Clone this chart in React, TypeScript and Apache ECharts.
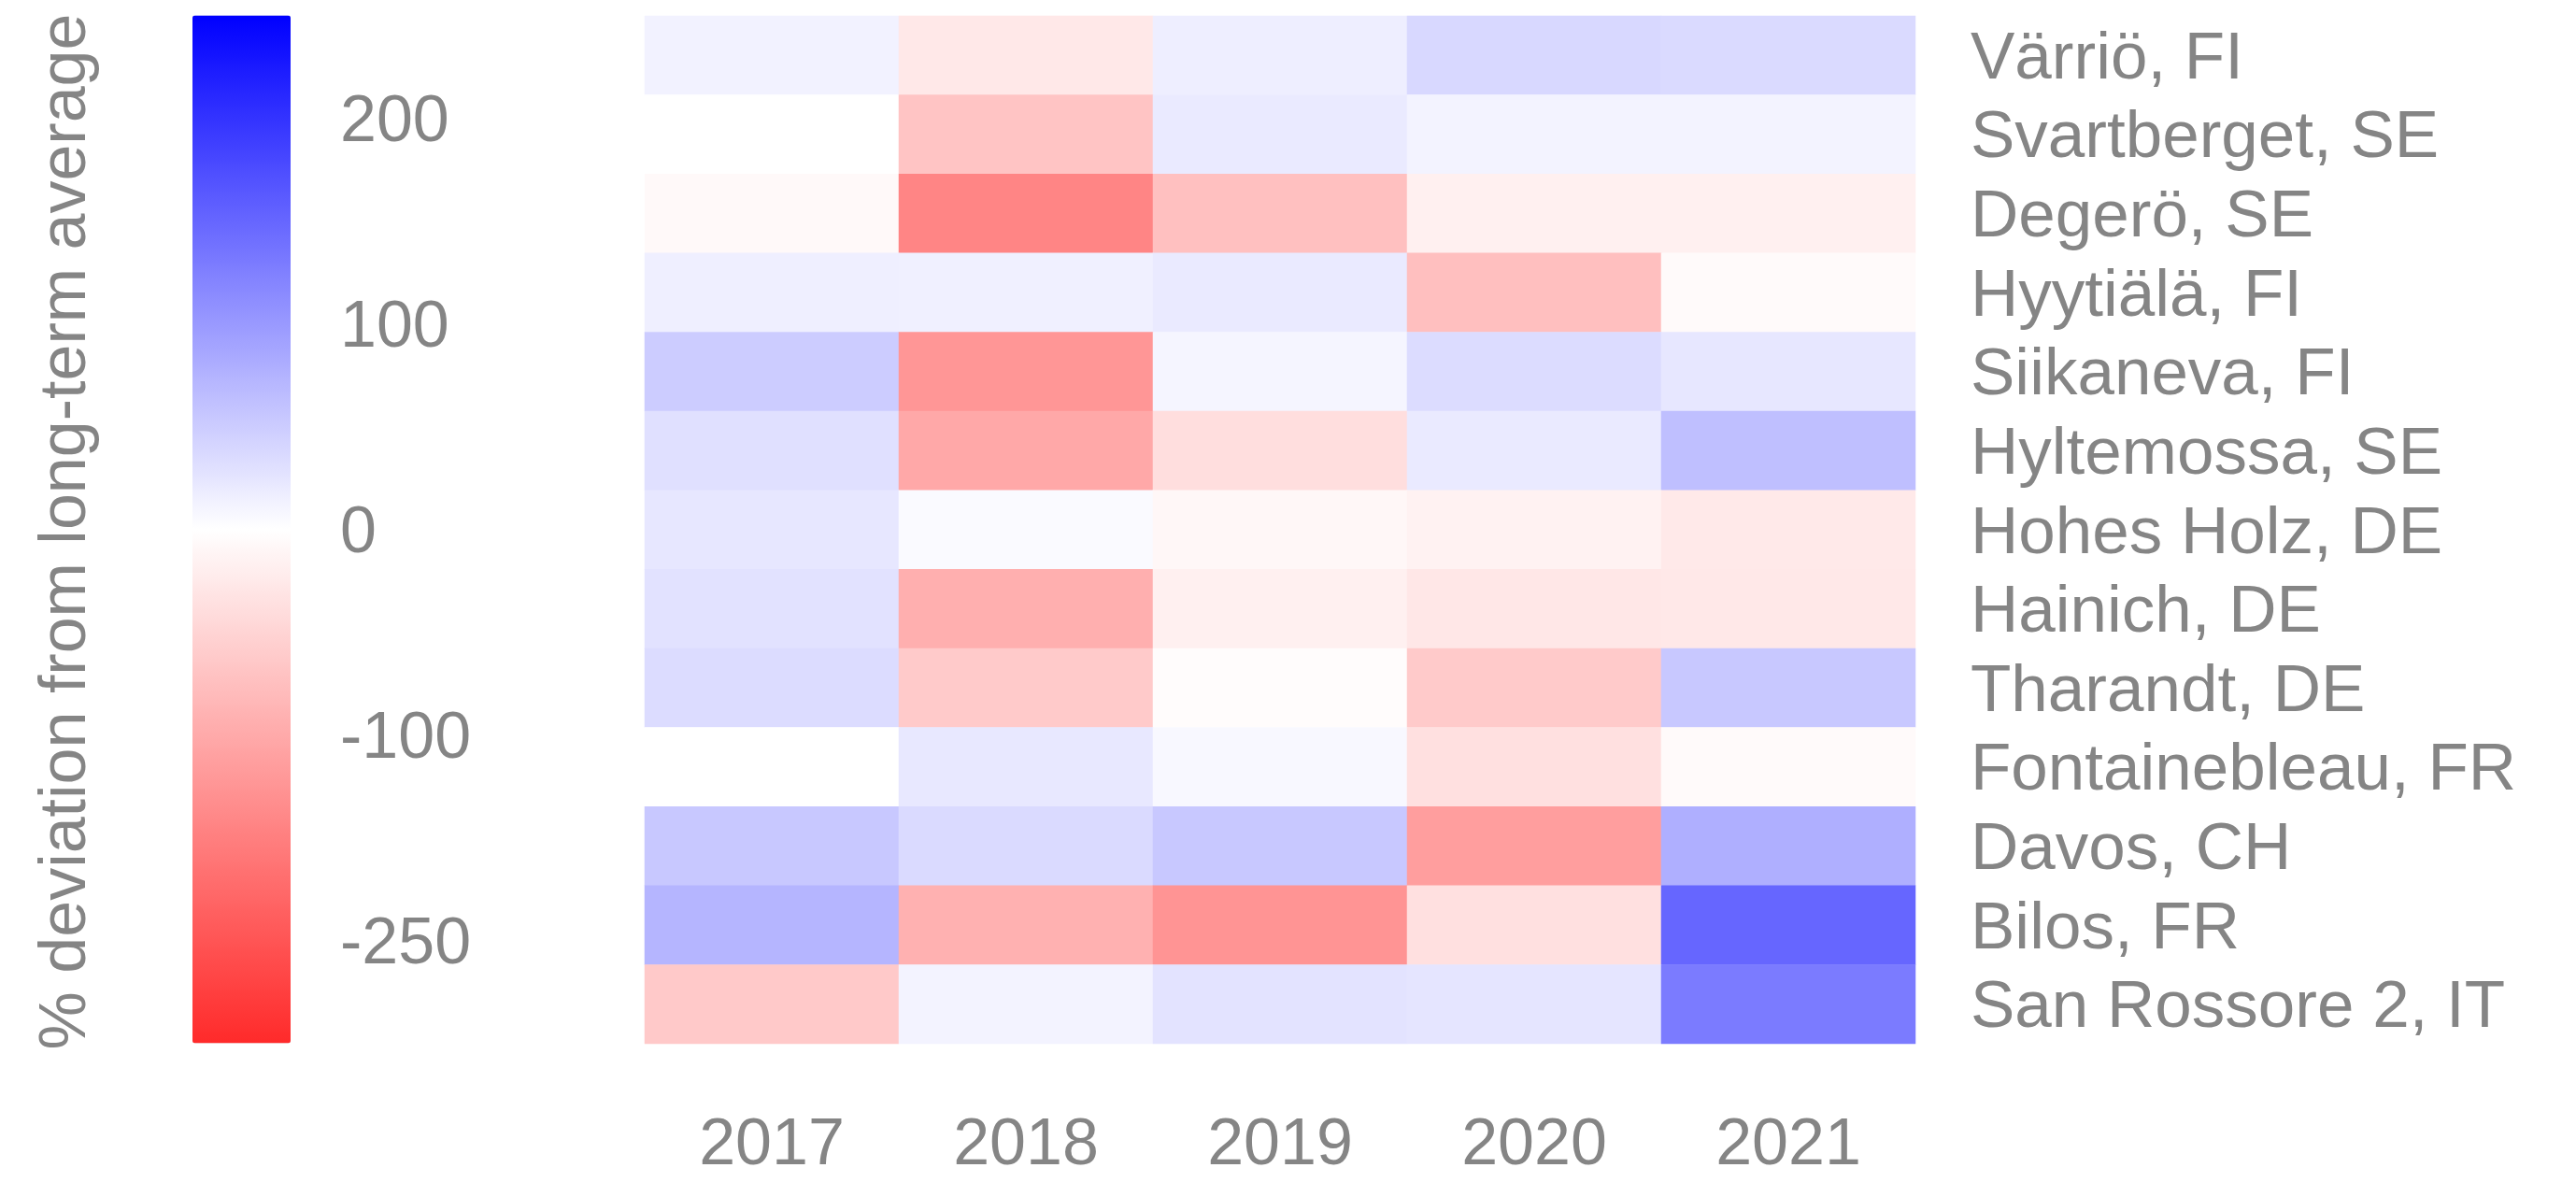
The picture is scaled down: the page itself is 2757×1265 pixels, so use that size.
import React, { useEffect, useRef } from "react";
import * as echarts from "echarts";

const years = ["2017", "2018", "2019", "2020", "2021"];
const stations = [
  "Värriö, FI",
  "Svartberget, SE",
  "Degerö, SE",
  "Hyytiälä, FI",
  "Siikaneva, FI",
  "Hyltemossa, SE",
  "Hohes Holz, DE",
  "Hainich, DE",
  "Tharandt, DE",
  "Fontainebleau, FR",
  "Davos, CH",
  "Bilos, FR",
  "San Rossore 2, IT",
];

// % deviation from long-term average, per station (rows) and year (columns)
const varrio = [13, -27, 17, 38, 36];
const svartberget = [0, -69, 21, 12, 12];
const degero = [-7, -143, -74, -18, -18];
const hyytiala = [16, 15, 21, -75, -6];
const siikaneva = [50, -123, 10, 34, 24];
const hyltemossa = [30, -102, -39, 21, 63];
const hohesHolz = [24, 5, -9, -15, -26];
const hainich = [28, -94, -18, -28, -27];
const tharandt = [34, -62, -4, -62, 54];
const fontainebleau = [0, 23, 7, -36, -6];
const davos = [54, 36, 54, -114, 78];
const bilos = [73, -92, -126, -36, 150];
const sanRossore = [-63, 12, 27, 25, 129];

const rows = [
  varrio,
  svartberget,
  degero,
  hyytiala,
  siikaneva,
  hyltemossa,
  hohesHolz,
  hainich,
  tharandt,
  fontainebleau,
  davos,
  bilos,
  sanRossore,
];

const scaleMin = -250;
const scaleMax = 250;
const tickValues = [-200, -150, -100, -50, 50, 100, 150, 200];
const labelValues = [200, 100, 0, -100, -200];
const labelTexts = ["200", "100", "0", "-100", "-250"];
const axisTitle = "% deviation from long-term average";

const FONT = "'Liberation Sans', Arial, sans-serif";
const GRAY = "#858585";

export default function App() {
  const ref = useRef<HTMLDivElement>(null);

  useEffect(() => {
    if (!ref.current) return;
    const chart = echarts.init(ref.current, null, { renderer: "svg" });

    const data: [number, number, number][] = [];
    rows.forEach((r, yi) => r.forEach((v, xi) => data.push([xi, yi, v])));

    chart.setOption({
      animation: false,
      backgroundColor: "#ffffff",
      textStyle: { fontFamily: FONT },
      grid: [
        { left: 690, top: 17, width: 1360, height: 1100 },
        { left: 206, top: 16.5, width: 105, height: 1100 },
      ],
      xAxis: [
        {
          type: "category",
          gridIndex: 0,
          data: years,
          position: "bottom",
          axisLine: { show: false },
          axisTick: { show: false },
          splitLine: { show: false },
          axisLabel: {
            color: GRAY,
            fontSize: 70,
            fontFamily: FONT,
            margin: 70,
            interval: 0,
          },
        },
        { type: "value", gridIndex: 1, show: false },
      ],
      yAxis: [
        {
          type: "category",
          gridIndex: 0,
          data: stations,
          inverse: true,
          position: "right",
          axisLine: { show: false },
          axisTick: { show: false },
          splitLine: { show: false },
          axisLabel: {
            color: GRAY,
            fontSize: 71,
            fontFamily: FONT,
            margin: 59,
            align: "left",
            interval: 0,
          },
        },
        {
          type: "value",
          gridIndex: 1,
          min: scaleMin,
          max: scaleMax,
          interval: 50,
          position: "right",
          z: 10,
          axisLine: { show: false },
          splitLine: { show: false },
          axisTick: {
            show: true,
            inside: true,
            length: 28,
            lineStyle: { color: "#ffffff", width: 1.5 },
            customValues: tickValues,
          },
          axisLabel: {
            color: GRAY,
            fontSize: 70,
            fontFamily: FONT,
            margin: 53,
            align: "left",
            customValues: labelValues,
            formatter: (v: number) => {
              const i = labelValues.indexOf(v);
              return i >= 0 ? labelTexts[i] : "";
            },
          },
        },
      ],
      visualMap: {
        type: "continuous",
        seriesIndex: 0,
        min: scaleMin,
        max: scaleMax,
        calculable: false,
        hoverLink: false,
        orient: "vertical",
        left: 206,
        top: 16.5,
        itemWidth: 105,
        itemHeight: 1100,
        padding: 0,
        inRange: { color: ["#FF2A2A", "#FFFFFF", "#0000FF"] },
      },
      graphic: [
        {
          type: "text",
          x: 67,
          y: 569,
          rotation: Math.PI / 2,
          style: {
            text: axisTitle,
            fontSize: 70,
            fontFamily: FONT,
            fill: GRAY,
            align: "center",
            verticalAlign: "middle",
          },
        },
      ],
      series: [
        {
          type: "heatmap",
          xAxisIndex: 0,
          yAxisIndex: 0,
          data,
          itemStyle: { borderWidth: 0 },
          emphasis: { disabled: true },
        },
      ],
    });

    return () => chart.dispose();
  }, []);

  return (
    <div
      ref={ref}
      style={{ position: "fixed", left: 0, top: 0, width: 2757, height: 1265 }}
    />
  );
}
